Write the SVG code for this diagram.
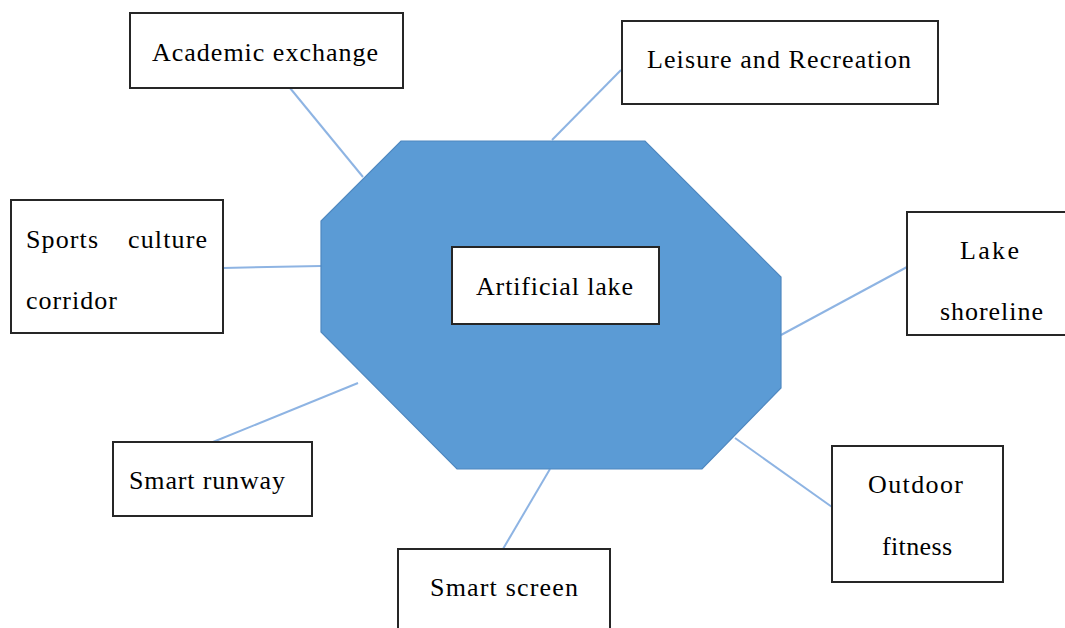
<svg xmlns="http://www.w3.org/2000/svg" width="1065" height="628" viewBox="0 0 1065 628">
<style>
.box{fill:#fff;stroke:#262626;stroke-width:2}
.c{stroke:#8eb4e3;stroke-width:2;fill:none}
</style>
<rect width="1065" height="628" fill="#fff"/>
<g id="connectors">
<line class="c" x1="290" y1="88" x2="363" y2="177"/>
<line class="c" x1="621" y1="70" x2="552" y2="140"/>
<line class="c" x1="223" y1="268" x2="321" y2="266"/>
<line class="c" x1="907" y1="267" x2="781" y2="335"/>
<line class="c" x1="213" y1="442" x2="358" y2="383"/>
<line class="c" x1="550" y1="469" x2="503" y2="549"/>
<line class="c" x1="735" y1="438" x2="832" y2="507"/>
</g>
<g id="lake">
<polygon points="401,141 645,141 781,277 781,388 702,469 457,469 321,332 321,221" fill="#5b9bd5" stroke="#4f88c0" stroke-width="1.2"/>
</g>
<g font-family="Liberation Serif, DejaVu Serif, serif" font-size="26" fill="#000" lengthAdjust="spacing">
<g id="artificial-lake">
<rect class="box" x="452" y="247" width="207" height="77"/>
<text x="476" y="295" textLength="157">Artificial lake</text>
</g>
<g id="academic-exchange">
<rect class="box" x="130" y="13" width="273" height="75"/>
<text x="152" y="61" textLength="226">Academic exchange</text>
</g>
<g id="leisure-recreation">
<rect class="box" x="622" y="21" width="316" height="83"/>
<text x="647" y="68" textLength="264">Leisure and Recreation</text>
</g>
<g id="sports-culture-corridor">
<rect class="box" x="11" y="200" width="212" height="133"/>
<text x="26" y="248" textLength="72">Sports</text>
<text x="128" y="248" textLength="79">culture</text>
<text x="26" y="309" textLength="91">corridor</text>
</g>
<g id="lake-shoreline">
<rect class="box" x="907" y="212" width="170" height="123"/>
<text x="960" y="259" textLength="59">Lake</text>
<text x="940" y="320" textLength="103">shoreline</text>
</g>
<g id="smart-runway">
<rect class="box" x="113" y="442" width="199" height="74"/>
<text x="129" y="489" textLength="156">Smart runway</text>
</g>
<g id="smart-screen">
<rect class="box" x="398" y="549" width="212" height="90"/>
<text x="430" y="596" textLength="148">Smart screen</text>
</g>
<g id="outdoor-fitness">
<rect class="box" x="832" y="446" width="171" height="136"/>
<text x="868" y="493" textLength="95">Outdoor</text>
<text x="882" y="555" textLength="70">fitness</text>
</g>
</g>
</svg>
